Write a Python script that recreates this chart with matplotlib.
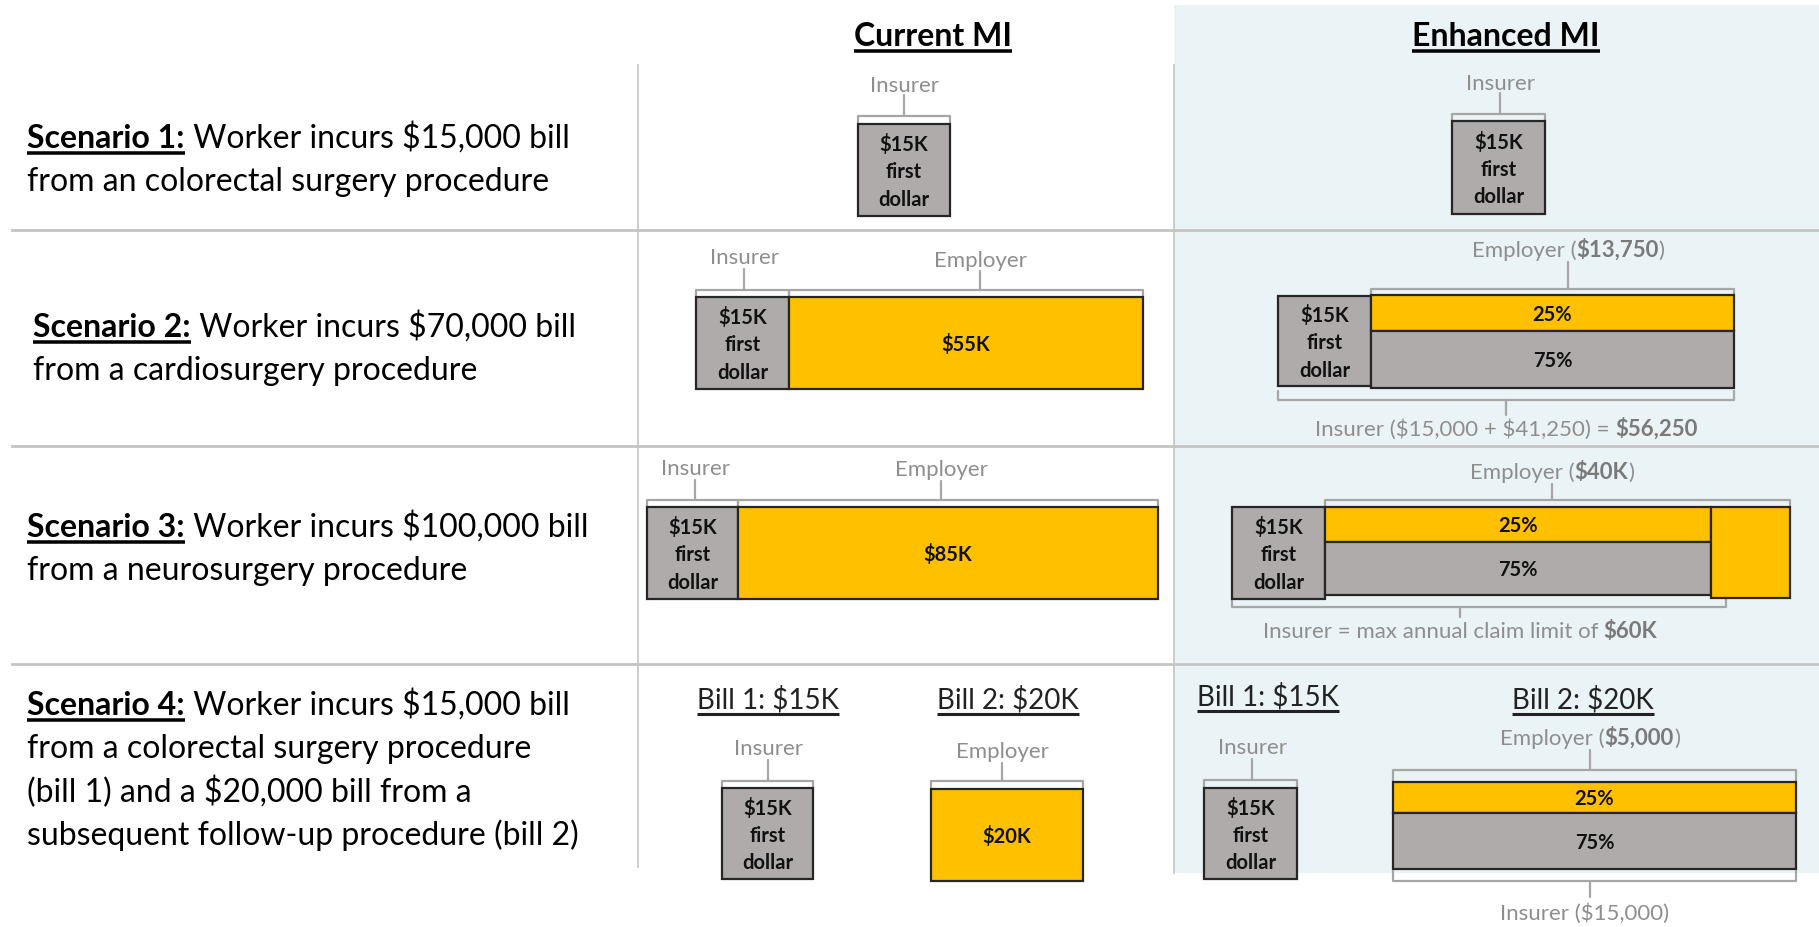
import matplotlib
matplotlib.use("Agg")
import matplotlib.pyplot as plt
from matplotlib.patches import Rectangle

# ---------------- data ----------------
column_titles = ["Current MI", "Enhanced MI"]
scenario_heads = ["Scenario 1:", "Scenario 2:", "Scenario 3:", "Scenario 4:"]
scenario_lines = [
    [" Worker incurs $15,000 bill", "from an colorectal surgery procedure"],
    [" Worker incurs $70,000 bill", "from a cardiosurgery procedure"],
    [" Worker incurs $100,000 bill", "from a neurosurgery procedure"],
    [" Worker incurs $15,000 bill", "from a colorectal surgery procedure",
     "(bill 1) and a $20,000 bill from a", "subsequent follow-up procedure (bill 2)"],
]
payers = ["Insurer", "Employer"]
first_dollar_k = 15
current_employer_k = [55, 85, 20]          # scenario 2, 3, 4 (bill 2)
bill_titles = ["Bill 1: $15K", "Bill 2: $20K"]
coshare_pct = [25, 75]                      # employer share, insurer share
enhanced_employer = ["$13,750", "$40K", "$5,000"]
insurer_notes = [
    [("Insurer ($15,000 + $41,250) = ", "normal"), ("$56,250", "bold")],
    [("Insurer = max annual claim limit of ", "normal"), ("$60K", "bold")],
    [("Insurer ($15,000)", "normal")],
]

# ---------------- styles ----------------
FONT = "Lato"
GRAY = "#AFABAB"
YELLOW = "#FFC000"
EDGE = "#262626"
BRK = "#A6A6A6"
LBL = "#8E8E8E"
LBLB = "#7A7A7A"
DIV = "#C4C4C4"
PANEL = "#EAF3F5"

W, H = 1819, 928
fig = plt.figure(figsize=(W / 100, H / 100), dpi=100)
ax = fig.add_axes([0, 0, 1, 1])
ax.set_xlim(0, W)
ax.set_ylim(H, 0)
ax.axis("off")
renderer = fig.canvas.get_renderer()


def twidth(s, **kw):
    t = ax.text(0, 0, s, fontfamily=FONT, parse_math=False, **kw)
    w = t.get_window_extent(renderer).width
    t.remove()
    return w


def rich(x, y, parts, size, ha="center", underline=()):
    """parts: list of (text, weight, color). y is baseline."""
    widths = []
    for s, wgt, col in parts:
        w = twidth("|" + s + "|", fontsize=size, fontweight=wgt) - twidth("||", fontsize=size, fontweight=wgt)
        widths.append(w)
    total = sum(widths)
    x0 = x - total / 2 if ha == "center" else x
    for i, ((s, wgt, col), w) in enumerate(zip(parts, widths)):
        ax.text(x0, y, s, fontsize=size, fontweight=wgt, color=col, fontfamily=FONT,
                ha="left", va="baseline", parse_math=False)
        if i in underline:
            ax.plot([x0, x0 + w], [y + size * 0.28, y + size * 0.28], color=col,
                    lw=size * 0.11, solid_capstyle="butt")
        x0 += w


def box(x0, x1, y0, y1, color, label=None, size=14.5):
    ax.barh((y0 + y1) / 2, x1 - x0, left=x0, height=y1 - y0, color=color,
            edgecolor=EDGE, linewidth=1.6, zorder=3)
    if label:
        ax.text((x0 + x1) / 2, (y0 + y1) / 2 + 1, label, ha="center", va="center",
                fontsize=size, fontweight="bold", color="#111111", fontfamily=FONT,
                linespacing=1.45, zorder=4, parse_math=False)


def bracket(x0, x1, yh, yend, xt, ytick):
    kw = dict(color=BRK, lw=1.6, solid_capstyle="round", zorder=2)
    ax.plot([x0, x0, x1, x1], [yend, yh, yh, yend], **kw)
    ax.plot([xt, xt], [yh, ytick], **kw)


# ---------------- background & grid ----------------
ax.add_patch(Rectangle((1174, 6), W - 1174, 868, color=PANEL, zorder=0, lw=0))
for yd in (231, 447, 665):
    ax.plot([12, W], [yd, yd], color=DIV, lw=2, zorder=1)
ax.plot([638, 638], [66, 868], color=DIV, lw=1.2, zorder=1)
ax.plot([1174, 1174], [66, 874], color=DIV, lw=1.2, zorder=1)

# ---------------- titles ----------------
rich(933, 46, [(column_titles[0], "bold", "black")], 23, underline=(0,))
rich(1506, 46, [(column_titles[1], "bold", "black")], 23, underline=(0,))

# ---------------- scenario descriptions ----------------
SF = 23
scen_x = [27, 33, 27, 27]
scen_y = [[148, 191], [337, 380], [537, 580], [715, 758, 802, 845]]
for i in range(4):
    rich(scen_x[i], scen_y[i][0],
         [(scenario_heads[i], "bold", "black"), (scenario_lines[i][0], "normal", "black")],
         SF, ha="left", underline=(0,))
    for j, line in enumerate(scenario_lines[i][1:]):
        ax.text(scen_x[i], scen_y[i][j + 1], line, fontsize=SF, fontfamily=FONT,
                ha="left", va="baseline", color="black", parse_math=False)

fd_label = f"${first_dollar_k}K\nfirst\ndollar"
emp_labels = [f"${v}K" for v in current_employer_k]
pct_labels = [f"{p}%" for p in coshare_pct]
LS = 16


def plabel(x, y, parts):
    rich(x, y, parts, LS)


# ---------------- Scenario 1 ----------------
box(858, 950, 125, 217, GRAY, fd_label)
bracket(858, 950, 117, 124, 904, 96)
plabel(904, 92, [(payers[0], "normal", LBL)])

box(1452, 1545, 122, 215, GRAY, fd_label)
bracket(1452, 1545, 115, 121, 1500, 94)
plabel(1500, 90, [(payers[0], "normal", LBL)])

# ---------------- Scenario 2 ----------------
box(696, 789, 298, 390, GRAY, fd_label)
box(789, 1143, 298, 390, YELLOW, emp_labels[0])
bracket(696, 789, 291, 297, 744, 270)
bracket(789, 1143, 291, 297, 980, 272)
plabel(744, 264, [(payers[0], "normal", LBL)])
plabel(980, 267, [(payers[1], "normal", LBL)])

box(1278, 1371, 297, 387, GRAY, fd_label)
box(1371, 1734, 296, 332, YELLOW, pct_labels[0])
box(1371, 1734, 332, 389, GRAY, pct_labels[1])
bracket(1371, 1734, 290, 295, 1568, 263)
plabel(1568, 257, [(payers[1] + " (", "normal", LBL), (enhanced_employer[0], "bold", LBLB), (")", "normal", LBL)])
bracket(1278, 1734, 401, 392, 1506, 416)
plabel(1506, 436, [(s, w, LBLB if w == "bold" else LBL) for s, w in insurer_notes[0]])

# ---------------- Scenario 3 ----------------
box(647, 738, 508, 600, GRAY, fd_label)
box(738, 1158, 508, 600, YELLOW, emp_labels[1])
bracket(647, 738, 501, 507, 695, 481)
bracket(738, 1158, 501, 507, 941, 482)
plabel(695, 475, [(payers[0], "normal", LBL)])
plabel(941, 476, [(payers[1], "normal", LBL)])

box(1232, 1325, 508, 600, GRAY, fd_label)
box(1325, 1711, 508, 543, YELLOW, pct_labels[0])
box(1325, 1711, 543, 596, GRAY, pct_labels[1])
box(1711, 1790, 508, 599, YELLOW)
bracket(1325, 1790, 501, 507, 1552, 485)
plabel(1552, 479, [(payers[1] + " (", "normal", LBL), (enhanced_employer[1], "bold", LBLB), (")", "normal", LBL)])
bracket(1232, 1726, 608, 600, 1460, 618)
plabel(1460, 638, [(s, w, LBLB if w == "bold" else LBL) for s, w in insurer_notes[1]])

# ---------------- Scenario 4 ----------------
BT = 20
rich(768, 709, [(bill_titles[0], "normal", "#222222")], BT, underline=(0,))
rich(1008, 709, [(bill_titles[1], "normal", "#222222")], BT, underline=(0,))
rich(1268, 706, [(bill_titles[0], "normal", "#222222")], BT, underline=(0,))
rich(1583, 709, [(bill_titles[1], "normal", "#222222")], BT, underline=(0,))

box(722, 813, 789, 880, GRAY, fd_label)
bracket(722, 813, 782, 788, 768, 761)
plabel(768, 755, [(payers[0], "normal", LBL)])
box(931, 1083, 790, 882, YELLOW, emp_labels[2])
bracket(931, 1083, 782, 789, 1002, 764)
plabel(1002, 758, [(payers[1], "normal", LBL)])

box(1204, 1297, 789, 880, GRAY, fd_label)
bracket(1204, 1297, 781, 788, 1252, 760)
plabel(1252, 754, [(payers[0], "normal", LBL)])
box(1393, 1796, 783, 814, YELLOW, pct_labels[0])
box(1393, 1796, 814, 870, GRAY, pct_labels[1])
bracket(1393, 1796, 771, 782, 1590, 751)
plabel(1590, 745, [(payers[1] + " (", "normal", LBL), (enhanced_employer[2], "bold", LBLB), (")", "normal", LBL)])
bracket(1393, 1796, 882, 872, 1590, 898)
plabel(1585, 920, [(s, w, LBLB if w == "bold" else LBL) for s, w in insurer_notes[2]])

fig.savefig("out.png", dpi=100, facecolor="white")
